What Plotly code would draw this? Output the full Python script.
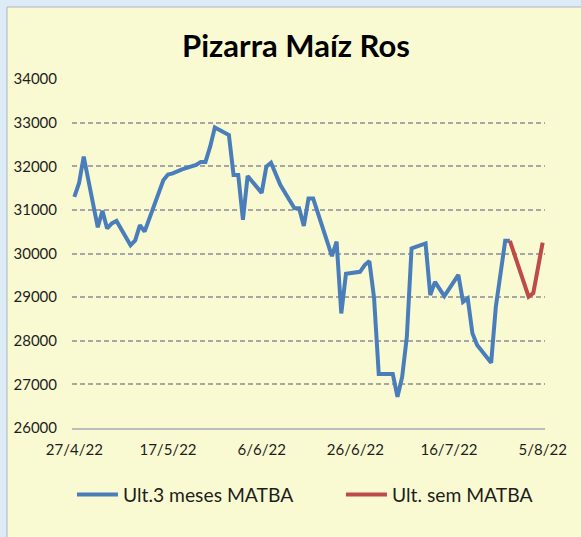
import plotly.graph_objects as go

# ---- data ----
blue_dates = [
    "2022-04-27", "2022-04-28", "2022-04-29", "2022-05-02", "2022-05-03", "2022-05-04",
    "2022-05-05", "2022-05-06", "2022-05-09", "2022-05-10", "2022-05-11", "2022-05-12",
    "2022-05-16", "2022-05-17", "2022-05-18", "2022-05-20", "2022-05-23", "2022-05-24",
    "2022-05-25", "2022-05-26", "2022-05-27", "2022-05-30", "2022-05-31", "2022-06-01",
    "2022-06-02", "2022-06-03", "2022-06-06", "2022-06-07", "2022-06-08", "2022-06-10",
    "2022-06-13", "2022-06-14", "2022-06-15", "2022-06-16", "2022-06-17", "2022-06-21",
    "2022-06-22", "2022-06-23", "2022-06-24", "2022-06-27", "2022-06-28", "2022-06-29",
    "2022-06-30", "2022-07-01", "2022-07-04", "2022-07-05", "2022-07-06", "2022-07-07",
    "2022-07-08", "2022-07-11", "2022-07-12", "2022-07-13", "2022-07-15", "2022-07-18",
    "2022-07-19", "2022-07-20", "2022-07-21", "2022-07-22", "2022-07-25", "2022-07-26",
    "2022-07-28", "2022-07-29",
]
blue_values = [
    31300, 31610, 32220, 30600, 30980, 30575,
    30690, 30745, 30190, 30300, 30650, 30500,
    31680, 31810, 31835, 31930, 32030, 32100,
    32100, 32450, 32890, 32715, 31800, 31800,
    30770, 31775, 31390, 31990, 32080, 31570,
    31035, 31035, 30630, 31260, 31260, 29940,
    30270, 28625, 29535, 29580, 29735, 29825,
    28980, 27235, 27235, 26715, 27170, 28090,
    30115, 30230, 29045, 29350, 29025, 29510,
    28890, 28970, 28170, 27900, 27495, 28780,
    30290, 30290,
]
red_dates = ["2022-07-29", "2022-08-02", "2022-08-03", "2022-08-05"]
red_values = [30290, 29010, 29090, 30250]

x_tick_vals = ["2022-04-27", "2022-05-17", "2022-06-06", "2022-06-26", "2022-07-16", "2022-08-05"]
x_tick_text = ["27/4/22", "17/5/22", "6/6/22", "26/6/22", "16/7/22", "5/8/22"]
y_tick_vals = [26000, 27000, 28000, 29000, 30000, 31000, 32000, 33000, 34000]

series_names = ["Ult.3 meses MATBA", "Ult. sem MATBA"]
title_text = "Pizarra Maíz Ros"

BLUE = "#4A7EBB"
RED = "#BE4B48"
FONT = "Lato"
PAGE_BG = "#DDEBF6"

fig = go.Figure()
fig.add_trace(go.Scatter(x=blue_dates, y=blue_values, mode="lines", name=series_names[0],
                         line=dict(color=BLUE, width=4)))
fig.add_trace(go.Scatter(x=red_dates, y=red_values, mode="lines", name=series_names[1],
                         line=dict(color=RED, width=4)))

W, H = 581, 537
ml, mr, mt, mb = 72, 36, 79, 109
pw, ph = W - ml - mr, H - mt - mb

def px_x(p):
    return (p - ml) / pw

def px_y(p):
    return (H - mb - p) / ph

fig.add_shape(type="rect", xref="paper", yref="paper",
              x0=px_x(7), x1=px_x(W + 10), y0=px_y(H + 10), y1=px_y(7),
              fillcolor="#FAFAD2", line=dict(color="#A9B4BE", width=1), layer="below")

fig.update_layout(
    width=W, height=H,
    margin=dict(l=ml, r=mr, t=mt, b=mb, autoexpand=False),
    paper_bgcolor=PAGE_BG,
    plot_bgcolor="rgba(0,0,0,0)",
    font=dict(family=FONT, color="#1E1E1E"),
    title=dict(text="<b>" + title_text + "</b>", x=296 / W, xref="container", xanchor="center",
               y=1 - 46 / H, yref="container", yanchor="middle",
               font=dict(family=FONT, size=31, color="#000000")),
    showlegend=True,
    legend=dict(orientation="h", x=-0.0001, xanchor="left", y=px_y(495), yanchor="middle",
                font=dict(family=FONT, size=19.3, color="#1E1E1E"),
                itemwidth=41,
                bgcolor="rgba(0,0,0,0)", entrywidth=213, entrywidthmode="pixels"),
    xaxis=dict(type="date", range=["2022-04-26 12:00", "2022-08-05 12:00"],
               tickvals=x_tick_vals, ticktext=x_tick_text, automargin=False,
               showgrid=False, zeroline=False, showline=True, linecolor="#BDBDBD", linewidth=2,
               ticks="", tickfont=dict(family=FONT, size=15, color="#1E1E1E"),
               ticklabelstandoff=7),
    yaxis=dict(range=[26000, 34000], tickvals=y_tick_vals, tickformat="d", automargin=False,
               showgrid=True, gridcolor="#A6A6A6", gridwidth=2, griddash="5px,3px",
               zeroline=False, showline=False, ticks="",
               tickfont=dict(family=FONT, size=15, color="#1E1E1E"),
               ticklabelstandoff=14),
)

post = ("document.body.style.margin='0';document.body.style.padding='0';"
        "document.body.style.overflow='hidden';document.body.style.background='%s';" % PAGE_BG)
fig.write_html("out.html", post_script=post, config={"displayModeBar": False})
